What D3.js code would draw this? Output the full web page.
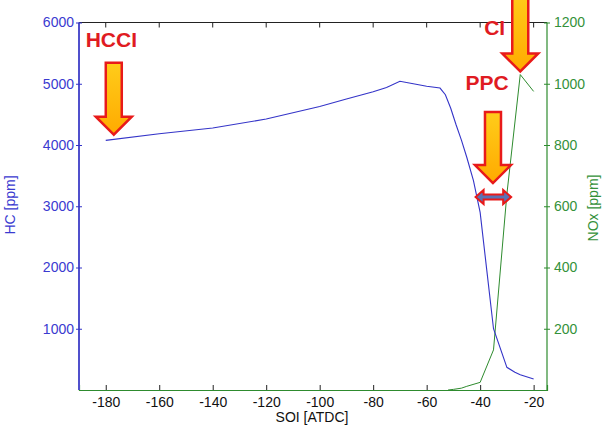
<!DOCTYPE html>
<html><head><meta charset="utf-8">
<script src="https://cdn.jsdelivr.net/npm/d3@7"></script>
<style>
html,body{margin:0;padding:0;background:#fff;}
text{font-family:"Liberation Sans",Arial,sans-serif;}
</style></head>
<body>
<svg id="chart" width="607" height="441"></svg>
<script>
// ---- data ----
const hcSOI   = [-180,-160,-140,-120,-100,-90,-80,-75,-70,-65,-60,-55,-53,-51,-49,-47,-45,-42.5,-40,-37.5,-35,-30,-27,-25,-20];
const hcPPM   = [4075,4184,4277,4424,4630,4750,4870,4940,5040,5000,4960,4930,4820,4600,4330,4080,3800,3420,2900,1950,1000,370,290,250,180];
const noxSOI  = [-52,-50,-47,-45,-40,-35,-30,-25,-20];
const noxPPM  = [0,2,6,12,25,131,640,1030,975];
const xTicks  = [-180,-160,-140,-120,-100,-80,-60,-40,-20];
const hcTicks = [1000,2000,3000,4000,5000,6000];
const noxTicks= [200,400,600,800,1000,1200];
// annotations: label, arrow tip (SOI, HC ppm), shaft length
const annLabels = ["HCCI","PPC","CI"];
const annTipSOI = [-177,-35.2,-25];
const annTipHC  = [4168,3379,5201];
const annShaft  = [54,53,62];
const annTextSOI= [-187.5,-45.5,-38.5];
const annTextHC = [5600,4900,5800];
// PPC range double arrow
const rangeSOI = [-41.7,-28.4];
const rangeHC  = 3150;

const svg = d3.select("#chart");
const L=79,R=547,T=22.5,B=390;
const x  = d3.scaleLinear([-190,-15],[L,R]);
const yH = d3.scaleLinear([0,6000],[B,T]);
const yN = d3.scaleLinear([0,1200],[B,T]);

const blue="#3434c8", green="#2e8b2e", lblBlue="#3a3ad0", lblGreen="#34913a";
const fmt = d => String(d);

const defs = svg.append("defs");
const g = defs.append("linearGradient").attr("id","gold").attr("x1",0).attr("y1",0).attr("x2",0).attr("y2",1);
g.append("stop").attr("offset","0%").attr("stop-color","#ffcc1a");
g.append("stop").attr("offset","100%").attr("stop-color","#ffaa00");

// box
svg.append("line").attr("x1",L).attr("x2",R).attr("y1",T).attr("y2",T).attr("stroke","#222").attr("stroke-width",1);
// top ticks
svg.append("g").selectAll("line").data(xTicks).join("line")
  .attr("x1",d=>x(d)).attr("x2",d=>x(d)).attr("y1",T).attr("y2",T+5).attr("stroke","#222");
// bottom axis
const xa = svg.append("g").attr("transform",`translate(0,${B})`)
  .call(d3.axisBottom(x).tickValues(xTicks).tickSize(-5).tickPadding(7).tickFormat(fmt));
xa.select(".domain").attr("stroke",green).attr("stroke-width",1.2);
xa.selectAll(".tick line").attr("stroke","#222");
xa.selectAll(".tick text").attr("fill","#111").style("font-size","14px").style("font-family","Liberation Sans, Arial, sans-serif");

// left axis
const ya = svg.append("g").attr("transform",`translate(${L},0)`)
  .call(d3.axisLeft(yH).tickValues(hcTicks).tickSize(3).tickPadding(2).tickFormat(fmt));
ya.select(".domain").attr("stroke","#5050cc").attr("stroke-width",2).attr("d",`M0,${T}V${B}`);
ya.selectAll(".tick line").attr("stroke",blue).attr("x2",3).attr("x1",-3);
ya.selectAll(".tick text").attr("fill",lblBlue).style("font-size","14px").style("font-family","Liberation Sans, Arial, sans-serif");

// right axis
const yb = svg.append("g").attr("transform",`translate(${R},0)`)
  .call(d3.axisRight(yN).tickValues(noxTicks).tickSize(3).tickPadding(4).tickFormat(fmt));
yb.select(".domain").attr("stroke",green).attr("stroke-width",1.2).attr("d",`M0,${T}V${B}`);
yb.selectAll(".tick line").attr("stroke",green).attr("x1",-3).attr("x2",3);
yb.selectAll(".tick text").attr("fill",lblGreen).style("font-size","14px").style("font-family","Liberation Sans, Arial, sans-serif");

// axis labels
svg.append("text").attr("transform",`translate(15,205) rotate(-90)`).attr("text-anchor","middle")
  .attr("fill",lblBlue).style("font-size","14px").text("HC [ppm]");
svg.append("text").attr("transform",`translate(598,208) rotate(-90)`).attr("text-anchor","middle")
  .attr("fill",lblGreen).style("font-size","14px").text("NOx [ppm]");
svg.append("text").attr("x",312).attr("y",422).attr("text-anchor","middle")
  .attr("fill","#111").style("font-size","14px").text("SOI [ATDC]");

// lines
svg.append("path").datum(d3.zip(noxSOI,noxPPM)).attr("fill","none").attr("stroke",green).attr("stroke-width",1)
  .attr("d",d3.line().x(d=>x(d[0])).y(d=>yN(d[1])));
svg.append("path").datum(d3.zip(hcSOI,hcPPM)).attr("fill","none").attr("stroke",blue).attr("stroke-width",1.1)
  .attr("d",d3.line().x(d=>x(d[0])).y(d=>yH(d[1])));

// arrows
const sw=8, hw=18, hh=18;
annLabels.forEach((lab,i)=>{
  const tx=x(annTipSOI[i]), ty=yH(annTipHC[i]);
  const p=d3.path();
  p.moveTo(tx,ty); p.lineTo(tx-hw,ty-hh); p.lineTo(tx-sw,ty-hh); p.lineTo(tx-sw,ty-hh-annShaft[i]);
  p.lineTo(tx+sw,ty-hh-annShaft[i]); p.lineTo(tx+sw,ty-hh); p.lineTo(tx+hw,ty-hh); p.closePath();
  svg.append("path").attr("d",p.toString()).attr("fill","url(#gold)").attr("stroke","#e81a1a").attr("stroke-width",2.5).attr("stroke-linejoin","miter");
  svg.append("text").attr("x",x(annTextSOI[i])).attr("y",yH(annTextHC[i]))
    .attr("fill","#e01b22").style("font-size","21px").style("font-weight","bold").text(lab);
});
// double arrow
{
  const x1=x(rangeSOI[0]), x2=x(rangeSOI[1]), cy=yH(rangeHC), ah=7, aw=8, st=2.5;
  const p=d3.path();
  p.moveTo(x1,cy); p.lineTo(x1+aw,cy-ah); p.lineTo(x1+aw,cy-st); p.lineTo(x2-aw,cy-st); p.lineTo(x2-aw,cy-ah);
  p.lineTo(x2,cy); p.lineTo(x2-aw,cy+ah); p.lineTo(x2-aw,cy+st); p.lineTo(x1+aw,cy+st); p.lineTo(x1+aw,cy+ah); p.closePath();
  svg.append("path").attr("d",p.toString()).attr("fill","#5a72b4").attr("stroke","#e81a1a").attr("stroke-width",2);
}
</script>
</body></html>
